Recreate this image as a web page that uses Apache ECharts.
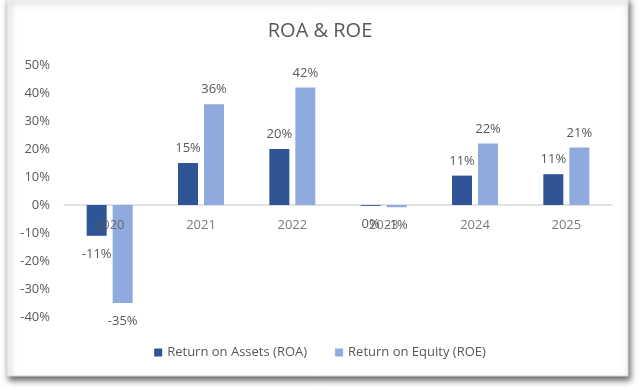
<!DOCTYPE html>
<html><head><meta charset="utf-8">
<script src="https://cdn.jsdelivr.net/npm/echarts@6/dist/echarts.min.js"></script>
<style>html,body{margin:0;padding:0;background:#fff}#c{width:640px;height:390px}</style>
</head><body><div id="c"></div>
<script>
const categories = ['2020','2021','2022','2023','2024','2025'];
const roa = [-11, 15, 20, -0.3, 10.5, 11];
const roe = [-35, 36, 42, -0.8, 22, 20.5];
const roaLabels = ['-11%','15%','20%','0%','11%','11%'];
const roeLabels = ['-35%','36%','42%','-1%','22%','21%'];
const yTicks = {min:-40, max:50, interval:10};

const font = 'Open Sans';
const txt = '#595959';
function mk(vals, labels){
  return vals.map((v,i)=>({value:v, label:{position: v<0?'bottom':'top', distance: v<0?12:8, formatter: labels[i]}}));
}
const chart = echarts.init(document.getElementById('c'));
chart.setOption({
  backgroundColor:'#fff',
  animation:false,
  graphic:[{type:'rect', z:-10, shape:{x:7,y:-2,width:621,height:378},
    style:{fill:'#fff', stroke:'#d9d9d9', lineWidth:1, shadowBlur:6, shadowOffsetX:2, shadowOffsetY:4, shadowColor:'rgba(0,0,0,0.6)'}}],
  title:{text:'ROA & ROE', left:'center', top:16, textStyle:{fontFamily:font, fontSize:20, fontWeight:'normal', color:txt}},
  grid:{left:64, right:28, top:65, bottom:73},
  legend:{data:['Return on Assets (ROA)','Return on Equity (ROE)'], bottom:26, left:'center', itemWidth:8, itemHeight:8, itemGap:28, icon:'rect',
    textStyle:{fontFamily:font, fontSize:13, color:txt}},
  xAxis:{type:'category', data:categories,
    axisLine:{lineStyle:{color:'#d9d9d9', width:1.5}}, axisTick:{show:false},
    axisLabel:{show:false}},
  yAxis:{type:'value', min:yTicks.min, max:yTicks.max, interval:yTicks.interval,
    splitLine:{show:false}, axisLine:{show:false}, axisTick:{show:false},
    axisLabel:{fontFamily:font, fontSize:13, color:txt, formatter:'{value}%', margin:14}},
  series:[
    {name:'Return on Assets (ROA)', type:'bar', data:mk(roa, roaLabels), itemStyle:{color:'#2F5597'},
      barWidth:20, barGap:'30%',
      label:{show:true, fontFamily:font, fontSize:13, color:txt}},
    {name:'Return on Equity (ROE)', type:'bar', data:mk(roe, roeLabels), itemStyle:{color:'#8FAADC'},
      barWidth:20, barGap:'30%',
      label:{show:true, fontFamily:font, fontSize:13, color:txt}},
    {name:'cats', type:'scatter', symbolSize:0, silent:true, z:10,
      data:categories.map(c=>[c,0]),
      label:{show:true, position:'bottom', distance:14, formatter:p=>p.data[0], fontFamily:font, fontSize:13, color:txt}}
  ]
});
</script></body></html>
